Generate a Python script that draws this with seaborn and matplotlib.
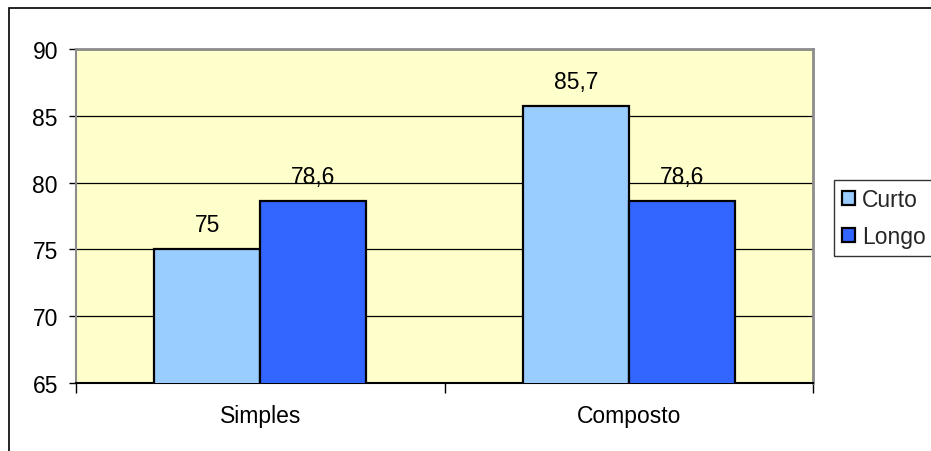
import matplotlib
matplotlib.use("Agg")
import matplotlib.pyplot as plt
import seaborn as sns
import pandas as pd
from matplotlib.patches import Patch, Rectangle

categories = ["Simples", "Composto"]
series_names = ["Curto", "Longo"]
curto = [75.0, 85.7]
longo = [78.6, 78.6]
y_ticks = [65, 70, 75, 80, 85, 90]
colors = ["#99CCFF", "#3366FF"]

df = pd.DataFrame({
    "categoria": categories * 2,
    "serie": [series_names[0]] * 2 + [series_names[1]] * 2,
    "valor": curto + longo,
})

sns.set_theme(style="white")
plt.rcParams["font.family"] = ["Liberation Sans", "DejaVu Sans"]
FS = 16.5

fig = plt.figure(figsize=(9.31, 4.52), dpi=100)
ax = fig.add_axes([76 / 931, 68 / 452, 737 / 931, 334 / 452])
ax.set_facecolor("#FFFFCC")

sns.barplot(data=df, x="categoria", y="valor", hue="serie", order=categories,
            hue_order=series_names, palette=colors, saturation=1, width=0.575,
            dodge=True, edgecolor="black", linewidth=1.6, ax=ax, legend=False,
            zorder=3, errorbar=None)

ax.set_ylim(y_ticks[0], y_ticks[-1])
ax.set_xlim(-0.5, 1.5)
ax.set_yticks(y_ticks)
ax.set_yticklabels([str(t) for t in y_ticks], fontsize=FS)
ax.yaxis.grid(True, color="black", linewidth=0.9, zorder=0)
ax.set_axisbelow(True)
ax.set_xlabel("")
ax.set_ylabel("")

# Category labels centred without ticks; ticks on the category boundaries
ax.set_xticks([0, 1])
ax.set_xticklabels(categories, fontsize=FS)
ax.set_xticks([-0.5, 0.5, 1.5], minor=True)
ax.tick_params(axis="x", which="major", length=0, pad=15, colors="black")
ax.tick_params(axis="x", which="minor", length=7, width=1, color="black", direction="out", bottom=True)
ax.tick_params(axis="y", length=5, width=1, color="black", direction="out", left=True, pad=8, colors="black")

for side in ["top", "right", "left"]:
    ax.spines[side].set_color("#8C8C8C")
    ax.spines[side].set_linewidth(2)
ax.spines["bottom"].set_color("black")
ax.spines["bottom"].set_linewidth(1.5)
ax.spines["left"].set_linewidth(1.5)

# Value labels above each bar
for container in ax.containers:
    for bar in container:
        h = bar.get_height()
        txt = f"{h:g}".replace(".", ",")
        ax.annotate(txt, (bar.get_x() + bar.get_width() / 2, h),
                    xytext=(0, 13.5), textcoords="offset points",
                    ha="center", va="baseline", fontsize=FS, color="black")

handles = [Patch(facecolor=c, edgecolor="black", linewidth=1.6) for c in colors]
leg = fig.legend(handles, series_names, loc="upper left",
                 bbox_to_anchor=(834 / 931, 1 - 181 / 452), fontsize=FS,
                 frameon=True, fancybox=False, shadow=False,
                 handlelength=0.57, handleheight=0.57, handletextpad=0.3,
                 borderpad=0.35, labelspacing=0.6, borderaxespad=0)
leg.get_frame().set_edgecolor("black")
leg.get_frame().set_linewidth(1)

# Outer chart border
fig.patches.append(Rectangle((9 / 931, -0.1), 1.2, 1 - 9 / 452 + 0.1,
                             transform=fig.transFigure, fill=False,
                             edgecolor="black", linewidth=1.2))

fig.savefig("out.png", dpi=100, facecolor="white")
